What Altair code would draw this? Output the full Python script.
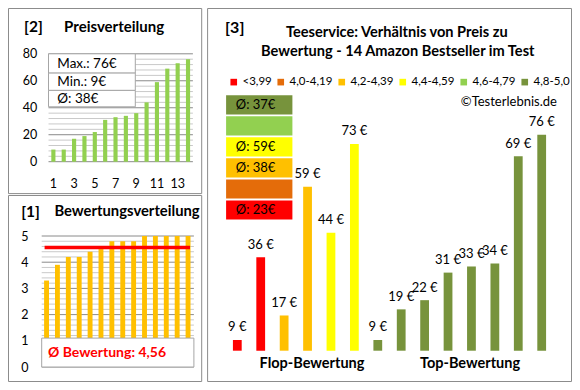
import altair as alt
import pandas as pd

# ---------------- data ----------------
ranks = [1, 2, 3, 4, 5, 6, 7, 8, 9, 10, 11, 12, 13, 14]
prices_sorted = [9, 9, 17, 19, 22, 31, 33, 34, 36, 44, 59, 69, 73, 76]
ratings_sorted = [3.3, 3.9, 4.2, 4.2, 4.4, 4.5, 4.8, 4.8, 4.8, 5.0, 5.0, 5.0, 5.0, 5.0]

classes = ["<3,99", "4,0-4,19", "4,2-4,39", "4,4-4,59", "4,6-4,79", "4,8-5,0"]
class_colors = ["#FF0000", "#E46C0A", "#FFC000", "#FFFF00", "#92D050", "#77933C"]
class_avgs = ["Ø: 23€", "", "Ø: 38€", "Ø: 59€", "", "Ø: 37€"]

flop_prices = [9, 36, 17, 59, 44, 73]
flop_classes = ["<3,99", "<3,99", "4,2-4,39", "4,2-4,39", "4,4-4,59", "4,4-4,59"]
top_prices = [9, 19, 22, 31, 33, 34, 69, 76]
top_classes = ["4,8-5,0"] * 8

price_ticks = [0, 20, 40, 60, 80]
price_grid_minor = [4, 8, 12, 16, 24, 28, 32, 36, 44, 48, 52, 56, 64, 68, 72, 76]
rank_ticks = [1, 3, 5, 7, 9, 11, 13]
rating_ticks = [0, 1, 2, 3, 4, 5]
rating_grid_minor = [0.2, 0.4, 0.6, 0.8, 1.2, 1.4, 1.6, 1.8, 2.2, 2.4, 2.6, 2.8,
                     3.2, 3.4, 3.6, 3.8, 4.2, 4.4, 4.6, 4.8]

# ---------------- layout helpers ----------------
FONT = "Lato"
W, H = 564, 374
SX = (W - 1) / 577
SY = (H - 1) / 387


def X(r):
    return round((r - 1) * SX + 0.5, 1)


def Y(r):
    return round((r - 1) * SY + 0.5, 1)


one = pd.DataFrame({"k": [0]})


def box(x0, y0, x1, y1, fill="white", stroke="#8c8c8c", sw=1.0):
    return alt.Chart(one).mark_rect(fill=fill, stroke=stroke, strokeWidth=sw).encode(
        x=alt.value(X(x0)), x2=alt.value(X(x1)), y=alt.value(Y(y0)), y2=alt.value(Y(y1)))


def label(txt, x, y, size=13, weight="normal", align="left", color="black"):
    return alt.Chart(one).mark_text(
        text=txt, font=FONT, fontSize=size, fontWeight=weight, align=align,
        baseline="middle", color=color).encode(x=alt.value(X(x)), y=alt.value(Y(y)))


layers = []

# frames
layers += [box(1, 1, 199, 193), box(1, 195, 199, 388), box(205, 1, 578, 388)]

# ---------------- panel [2] Preisverteilung ----------------
p2_yscale = alt.Scale(domain=[0, 80], range=[Y(160), Y(48)], nice=False)
p2_df = pd.DataFrame({"rank": ranks, "price": prices_sorted})

layers.append(
    alt.Chart(pd.DataFrame({"v": price_grid_minor})).mark_rule(color="#c9c9c9", strokeWidth=1).encode(
        y=alt.Y("v:Q", scale=p2_yscale, axis=None), x=alt.value(X(42)), x2=alt.value(X(190))))
layers.append(
    alt.Chart(pd.DataFrame({"v": price_ticks})).mark_rule(color="#8a8a8a", strokeWidth=1).encode(
        y=alt.Y("v:Q", scale=p2_yscale, axis=None), x=alt.value(X(42)), x2=alt.value(X(190))))
layers.append(
    alt.Chart(p2_df).mark_bar(color="#92D050").encode(
        x=alt.X("rank:O",
                scale=alt.Scale(domain=ranks, range=[X(41.7), X(190.3)], paddingInner=0.6, paddingOuter=0.3),
                axis=alt.Axis(values=rank_ticks, orient="bottom", offset=-(H - Y(160)), domain=False,
                              ticks=False, tickSize=0, labelPadding=Y(183) - Y(160), labelBaseline="middle",
                              labelAngle=0, labelFont=FONT, labelFontSize=12.5, labelColor="black",
                              title=None, grid=False, zindex=2)),
        y=alt.Y("price:Q", scale=p2_yscale,
                axis=alt.Axis(values=price_ticks, orient="left", offset=-X(33), domain=False, ticks=False,
                              tickSize=0, labelPadding=3, labelFont=FONT, labelFontSize=12.5,
                              labelColor="black", title=None, grid=False, zindex=2))))

pmax, pmin = max(prices_sorted), min(prices_sorted)
pavg = round(sum(prices_sorted) / len(prices_sorted))
layers += [box(42, 48, 131, 68, stroke="#a6a6a6"), box(42, 68, 131, 86, stroke="#a6a6a6"),
           box(42, 86, 131, 103, stroke="#a6a6a6")]
layers += [label(f"Max.: {pmax}€", 51, 58.5, 13.5), label(f"Min.: {pmin}€", 51, 77, 13.5),
           label(f"Ø: {pavg}€", 51, 94.5, 13.5)]
layers += [label("[2]", 17, 20, 15.5, "bold"), label("Preisverteilung", 58, 20, 15, "bold")]

# ---------------- panel [1] Bewertungsverteilung ----------------
p1_yscale = alt.Scale(domain=[0, 5], range=[Y(373), Y(237)], nice=False)
p1_df = pd.DataFrame({"rank": ranks, "rating": ratings_sorted})

layers.append(
    alt.Chart(pd.DataFrame({"v": rating_grid_minor})).mark_rule(color="#c9c9c9", strokeWidth=1).encode(
        y=alt.Y("v:Q", scale=p1_yscale, axis=None), x=alt.value(X(35)), x2=alt.value(X(191))))
layers.append(
    alt.Chart(pd.DataFrame({"v": rating_ticks})).mark_rule(color="#8a8a8a", strokeWidth=1).encode(
        y=alt.Y("v:Q", scale=p1_yscale, axis=None), x=alt.value(X(35)), x2=alt.value(X(191))))
layers.append(
    alt.Chart(p1_df).mark_bar(color="#FFC000").encode(
        x=alt.X("rank:O",
                scale=alt.Scale(domain=ranks, range=[X(34.4), X(190.6)], paddingInner=0.55, paddingOuter=0.275),
                axis=None),
        y=alt.Y("rating:Q", scale=p1_yscale,
                axis=alt.Axis(values=rating_ticks, orient="left", offset=-X(24), domain=False, ticks=False,
                              tickSize=0, labelPadding=3, labelFont=FONT, labelFontSize=12.5,
                              labelColor="black", title=None, grid=False, zindex=2))))

rmean = sum(ratings_sorted) / len(ratings_sorted)
layers.append(
    alt.Chart(pd.DataFrame({"m": [rmean]})).mark_rule(color="#FF0000", strokeWidth=3.5).encode(
        y=alt.Y("m:Q", scale=p1_yscale, axis=None), x=alt.value(X(38)), x2=alt.value(X(187))))
layers.append(box(35, 343, 191, 373, stroke="#a6a6a6"))
layers.append(label("Ø Bewertung: " + f"{rmean:.2f}".replace(".", ","), 102, 358, 14, "bold",
                    "center", "#FF0000"))
layers += [label("[1]", 14, 212, 15.5, "bold"), label("Bewertungsverteilung", 48, 212, 14.8, "bold")]

# ---------------- panel [3] ----------------
p3_df = pd.DataFrame({
    "pos": list(range(1, len(flop_prices) + len(top_prices) + 1)),
    "price": flop_prices + top_prices,
    "cls": flop_classes + top_classes,
})
p3_df["lbl"] = p3_df["price"].astype(str) + " €"

P3_BASE = 5.5
p3_x = alt.X("pos:O", scale=alt.Scale(range=[X(223.5), X(559.5)], paddingInner=0.625, paddingOuter=0.3125),
             axis=None)
p3_yscale = alt.Scale(domain=[P3_BASE, 76], range=[Y(356), Y(132)], nice=False, zero=False)
color_scale = alt.Scale(domain=classes, range=class_colors)

layers.append(
    alt.Chart(p3_df).mark_bar().encode(
        x=p3_x,
        y=alt.Y("price:Q", scale=p3_yscale, axis=None),
        y2=alt.datum(P3_BASE),
        color=alt.Color("cls:N", scale=color_scale,
                        legend=alt.Legend(orient="none", legendX=X(226), legendY=Y(71), direction="horizontal",
                                          columns=6, gridAlign="each", title=None, symbolType="square",
                                          symbolSize=44, symbolStrokeWidth=0, labelFont=FONT,
                                          labelFontSize=11.5, labelColor="black", labelOffset=3,
                                          columnPadding=3, padding=0))))
layers.append(
    alt.Chart(p3_df).mark_text(font=FONT, fontSize=13, color="black", baseline="middle", dy=-12.5).encode(
        x=p3_x, y=alt.Y("price:Q", scale=p3_yscale, axis=None), text="lbl:N"))

box_df = pd.DataFrame({"cls": classes, "avg": class_avgs})
box_y = alt.Y("cls:N", scale=alt.Scale(domain=classes[::-1], range=[Y(90), Y(221)], paddingInner=0.09,
                                       paddingOuter=0.045), axis=None)
layers.append(
    alt.Chart(box_df).mark_rect().encode(
        y=box_y, x=alt.value(X(224)), x2=alt.value(X(292)),
        color=alt.Color("cls:N", scale=color_scale, legend=None)))
layers.append(
    alt.Chart(box_df).mark_text(font=FONT, fontSize=13, color="black", align="left", baseline="middle").encode(
        y=box_y, x=alt.value(X(234)), text="avg:N"))

layers += [
    label("[3]", 223, 21, 16, "bold"),
    label("Teeservice: Verhältnis von Preis zu", 399, 26, 14.6, "bold", "center"),
    label("Bewertung - 14 Amazon Bestseller im Test", 400, 46, 14.6, "bold", "center"),
    label("©Testerlebnis.de", 563, 98, 13, "normal", "right"),
    label("Flop-Bewertung", 312, 370, 14.5, "bold", "center"),
    label("Top-Bewertung", 474, 370, 14.5, "bold", "center"),
]

chart = alt.layer(*layers, data=one).resolve_scale(
    x="independent", y="independent", color="independent"
).properties(
    width=W, height=H, autosize=alt.AutoSizeParams(type="none"), padding=0, background="white"
).configure_view(stroke=None)

chart.save("out.html", embed_options={"renderer": "svg", "actions": False})
